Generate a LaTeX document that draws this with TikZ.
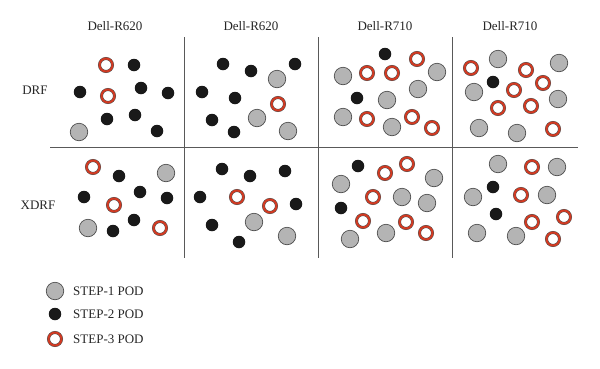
\documentclass[tikz,border=0pt]{standalone}
\usepackage{fontspec}
\setmainfont{Liberation Serif}

\definecolor{podgray}{HTML}{B4B4B4}
\definecolor{podred}{HTML}{D23A22}
\definecolor{rim}{HTML}{505050}
\tikzset{
  stepone/.style={circle,inner sep=0pt,minimum size=17.5pt,fill=podgray,draw=rim,line width=0.7pt},
  steptwo/.style={circle,inner sep=0pt,minimum size=12.5pt,fill=black!90},
  stepthree/.style={circle,inner sep=0pt,minimum size=13pt,fill=white,draw=rim,line width=0.5pt,double=podred,double distance=2pt},
  lbl/.style={font=\fontsize{13}{15}\selectfont,text=black!85},
  gridline/.style={draw=black!65,line width=0.8pt}
}

\begin{document}
\begin{tikzpicture}[x=1pt,y=-1pt]
\useasboundingbox (0,0) rectangle (600,368);
% headers and row labels
\node[lbl] (h1) at (115,26){Dell-R620};
\node[lbl] (h2) at (251,26){Dell-R620};
\node[lbl] (h3) at (385,26){Dell-R710};
\node[lbl] (h4) at (510,26){Dell-R710};
\node[lbl] (row1) at (35,90){DRF};
\node[lbl] (row2) at (38,205){XDRF};
% grid
\draw[gridline] (184,37) -- (184,258);
\draw[gridline] (318,37) -- (318,258);
\draw[gridline] (452,37) -- (452,258);
\draw[gridline] (50,147) -- (578,147);
% DRF / first R620
\node[stepthree] (p11a) at (106,65){};
\node[stepthree] (p11b) at (108,96){};
\node[steptwo] (p11c) at (134,65){};
\node[steptwo] (p11d) at (80,92){};
\node[steptwo] (p11e) at (141,88){};
\node[steptwo] (p11f) at (168,93){};
\node[steptwo] (p11g) at (107,119){};
\node[steptwo] (p11h) at (135,115){};
\node[steptwo] (p11i) at (157,131){};
\node[stepone] (p11j) at (79,132){};
% DRF / second R620
\node[steptwo] (p12a) at (223,64){};
\node[steptwo] (p12b) at (251,71){};
\node[steptwo] (p12c) at (295,64){};
\node[steptwo] (p12d) at (202,92){};
\node[steptwo] (p12e) at (235,98){};
\node[steptwo] (p12f) at (212,120){};
\node[steptwo] (p12g) at (234,132){};
\node[stepone] (p12h) at (277,79){};
\node[stepone] (p12i) at (257,118){};
\node[stepone] (p12j) at (288,131){};
\node[stepthree] (p12k) at (278,104){};
% DRF / first R710
\node[steptwo] (p13a) at (385,54){};
\node[steptwo] (p13b) at (357,98){};
\node[stepthree] (p13c) at (417,59){};
\node[stepthree] (p13d) at (367,73){};
\node[stepthree] (p13e) at (392,73){};
\node[stepthree] (p13f) at (367,119){};
\node[stepthree] (p13g) at (412,117){};
\node[stepthree] (p13h) at (432,128){};
\node[stepone] (p13i) at (343,76){};
\node[stepone] (p13j) at (437,72){};
\node[stepone] (p13k) at (418,89){};
\node[stepone] (p13l) at (387,100){};
\node[stepone] (p13m) at (343,117){};
\node[stepone] (p13n) at (392,127){};
% DRF / second R710
\node[steptwo] (p14a) at (493,82){};
\node[stepthree] (p14b) at (471,68){};
\node[stepthree] (p14c) at (526,70){};
\node[stepthree] (p14d) at (543,83){};
\node[stepthree] (p14e) at (514,90){};
\node[stepthree] (p14f) at (498,108){};
\node[stepthree] (p14g) at (531,106){};
\node[stepthree] (p14h) at (553,129){};
\node[stepone] (p14i) at (498,59){};
\node[stepone] (p14j) at (559,63){};
\node[stepone] (p14k) at (474,92){};
\node[stepone] (p14l) at (558,99){};
\node[stepone] (p14m) at (479,128){};
\node[stepone] (p14n) at (517,133){};
% XDRF / first R620
\node[stepthree] (p21a) at (93,167){};
\node[stepthree] (p21b) at (114,205){};
\node[stepthree] (p21c) at (160,228){};
\node[steptwo] (p21d) at (119,176){};
\node[steptwo] (p21e) at (140,192){};
\node[steptwo] (p21f) at (84,197){};
\node[steptwo] (p21g) at (167,198){};
\node[steptwo] (p21h) at (113,231){};
\node[steptwo] (p21i) at (134,220){};
\node[stepone] (p21j) at (166,173){};
\node[stepone] (p21k) at (88,228){};
% XDRF / second R620
\node[steptwo] (p22a) at (222,169){};
\node[steptwo] (p22b) at (250,176){};
\node[steptwo] (p22c) at (285,171){};
\node[steptwo] (p22d) at (200,197){};
\node[steptwo] (p22e) at (296,204){};
\node[steptwo] (p22f) at (212,225){};
\node[steptwo] (p22g) at (239,242){};
\node[stepthree] (p22h) at (237,197){};
\node[stepthree] (p22i) at (270,206){};
\node[stepone] (p22j) at (254,222){};
\node[stepone] (p22k) at (287,236){};
% XDRF / first R710
\node[steptwo] (p23a) at (358,166){};
\node[steptwo] (p23b) at (341,208){};
\node[stepthree] (p23c) at (385,173){};
\node[stepthree] (p23d) at (407,164){};
\node[stepthree] (p23e) at (373,197){};
\node[stepthree] (p23f) at (363,221){};
\node[stepthree] (p23g) at (406,222){};
\node[stepthree] (p23h) at (426,233){};
\node[stepone] (p23i) at (341,184){};
\node[stepone] (p23j) at (434,178){};
\node[stepone] (p23k) at (402,197){};
\node[stepone] (p23l) at (427,203){};
\node[stepone] (p23m) at (350,239){};
\node[stepone] (p23n) at (386,233){};
% XDRF / second R710
\node[steptwo] (p24a) at (493,187){};
\node[steptwo] (p24b) at (496,214){};
\node[stepthree] (p24c) at (532,167){};
\node[stepthree] (p24d) at (521,195){};
\node[stepthree] (p24e) at (532,222){};
\node[stepthree] (p24f) at (564,217){};
\node[stepthree] (p24g) at (553,239){};
\node[stepone] (p24h) at (498,164){};
\node[stepone] (p24i) at (557,167){};
\node[stepone] (p24j) at (473,197){};
\node[stepone] (p24k) at (547,195){};
\node[stepone] (p24l) at (477,233){};
\node[stepone] (p24m) at (516,236){};
% legend
\node[stepone] (key1) at (55,291){};
\node[steptwo] (key2) at (55,314){};
\node[stepthree] (key3) at (55,339){};
\node[lbl,anchor=west,inner sep=0pt] (txt1) at (73,291){STEP-1 POD};
\node[lbl,anchor=west,inner sep=0pt] (txt2) at (73,314){STEP-2 POD};
\node[lbl,anchor=west,inner sep=0pt] (txt3) at (73,339){STEP-3 POD};
\end{tikzpicture}
\end{document}
